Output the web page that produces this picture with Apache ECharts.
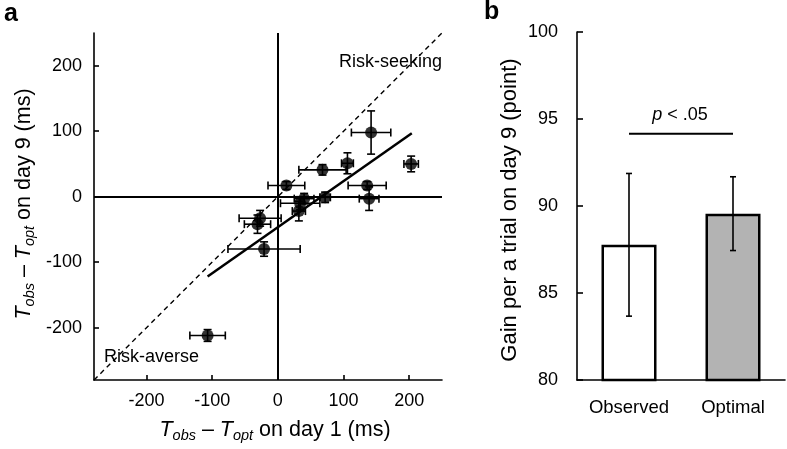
<!DOCTYPE html>
<html><head><meta charset="utf-8">
<script src="https://cdn.jsdelivr.net/npm/echarts@6/dist/echarts.min.js"></script>
<style>html,body{margin:0;padding:0;background:#fff}#c{width:787px;height:449px}</style>
</head><body><div id="c"></div>
<script>
// Panel a data (ms)
const day1 = [142, 203, 68, 106, 13, 136, 139, 72, 40, 34, 32, -27, -31, -21, -107];
const day9 = [98, 50, 41, 51, 17, 17, -3, -1, -3, -10, -22, -33, -42, -80, -212];
const day1Err = [30, 11, 36, 9, 28, 29, 15, 8, 15, 30, 10, 32, 20, 55, 27];
const day9Err = [33, 12, 8, 16, 6, 6, 18, 8, 8, 10, 15, 12, 14, 11, 9];
const regX = [-107, 204];
const regY = [-122, 97];
const diagRange = [-280, 250];
const tickValsA = [-200, -100, 0, 100, 200];
// Panel b data
const categories = ['Observed', 'Optimal'];
const gains = [87.77, 89.56];
const gainErr = [4.1, 2.12];
const sigLevel = 94.15;

const FONT = 'Liberation Sans, Arial, sans-serif';
const chart = echarts.init(document.getElementById('c'));

function errA(params, api) {
  const x = api.value(0), y = api.value(1), ex = api.value(2), ey = api.value(3);
  const l = api.coord([x - ex, y]), r = api.coord([x + ex, y]);
  const t = api.coord([x, y + ey]), b = api.coord([x, y - ey]);
  const cap = 4, st = { stroke: '#000', lineWidth: 1.6 };
  const ln = (x1, y1, x2, y2) => ({ type: 'line', shape: { x1, y1, x2, y2 }, style: st });
  return { type: 'group', children: [
    ln(l[0], l[1], r[0], r[1]),
    ln(l[0], l[1] - cap, l[0], l[1] + cap),
    ln(r[0], r[1] - cap, r[0], r[1] + cap),
    ln(t[0], t[1], b[0], b[1]),
    ln(t[0] - cap, t[1], t[0] + cap, t[1]),
    ln(b[0] - cap, b[1], b[0] + cap, b[1])
  ]};
}
function errB(params, api) {
  const i = api.value(0), v = api.value(1), e = api.value(2);
  const t = api.coord([i, v + e]), b = api.coord([i, v - e]);
  const cap = 3, st = { stroke: '#000', lineWidth: 1.6 };
  const ln = (x1, y1, x2, y2) => ({ type: 'line', shape: { x1, y1, x2, y2 }, style: st });
  return { type: 'group', children: [
    ln(t[0], t[1], b[0], b[1]),
    ln(t[0] - cap, t[1], t[0] + cap, t[1]),
    ln(b[0] - cap, b[1], b[0] + cap, b[1])
  ]};
}

const axisA = (extra) => Object.assign({
  type: 'value', min: diagRange[0], max: diagRange[1],
  axisLine: { onZero: false, lineStyle: { color: '#000', width: 1.6 } },
  axisTick: { inside: true, length: 5, customValues: tickValsA, lineStyle: { color: '#000', width: 1.6 } },
  axisLabel: { customValues: tickValsA, color: '#000', fontSize: 18, fontFamily: FONT, margin: 12 },
  splitLine: { show: false }
}, extra);

const richT = {
  it: { fontStyle: 'italic', fontSize: 21.5, fontFamily: FONT, color: '#000', lineHeight: 27 },
  n: { fontSize: 21.5, fontFamily: FONT, color: '#000', lineHeight: 27 },
  sub: { fontStyle: 'italic', fontSize: 14.5, fontFamily: FONT, color: '#000', lineHeight: 15, verticalAlign: 'bottom' }
};

const option = {
  animation: false,
  backgroundColor: '#fff',
  grid: [
    { left: 94, right: 345, top: 33, bottom: 69 },
    { left: 577, right: 2, top: 32, bottom: 69 }
  ],
  xAxis: [
    axisA({ gridIndex: 0 }),
    { type: 'category', gridIndex: 1, data: categories,
      axisLine: { lineStyle: { color: '#000', width: 1.6 } },
      axisTick: { inside: true, length: 7, lineStyle: { color: '#000', width: 1.6 } },
      axisLabel: { interval: 0, hideOverlap: false, color: '#000', fontSize: 18.5, fontFamily: FONT, margin: 18 } }
  ],
  yAxis: [
    axisA({ gridIndex: 0 }),
    { type: 'value', gridIndex: 1, min: 80, max: 100, interval: 5,
      axisLine: { show: true, lineStyle: { color: '#000', width: 1.6 } },
      axisTick: { show: true, inside: true, length: 6, lineStyle: { color: '#000', width: 1.6 } },
      axisLabel: { color: '#000', fontSize: 18, fontFamily: FONT, margin: 19 },
      splitLine: { show: false } }
  ],
  series: [
    { type: 'line', xAxisIndex: 0, yAxisIndex: 0, data: [[diagRange[0], diagRange[0]], [diagRange[1], diagRange[1]]],
      symbol: 'none', silent: true, lineStyle: { color: '#000', width: 1.4, type: [5, 4] },
      markLine: { silent: true, symbol: 'none', label: { show: false },
        lineStyle: { color: '#000', width: 2, type: 'solid' },
        data: [{ xAxis: 0 }, { yAxis: 0 }] } },
    { type: 'line', xAxisIndex: 0, yAxisIndex: 0, data: regX.map((x, i) => [x, regY[i]]),
      symbol: 'none', silent: true, lineStyle: { color: '#000', width: 2.5 } },
    { type: 'custom', xAxisIndex: 0, yAxisIndex: 0, renderItem: errA, silent: true,
      data: day1.map((x, i) => [x, day9[i], day1Err[i], day9Err[i]]), encode: { x: 0, y: 1 } },
    { type: 'scatter', xAxisIndex: 0, yAxisIndex: 0, symbolSize: 12, silent: true,
      itemStyle: { color: '#000' }, data: day1.map((x, i) => [x, day9[i]]) },
    { type: 'bar', xAxisIndex: 1, yAxisIndex: 1, barWidth: 55, silent: true,
      data: gains.map((v, i) => ({ value: v, itemStyle: { color: i === 0 ? '#ffffff' : '#b3b3b3', borderColor: '#000', borderWidth: 2.5 } })) },
    { type: 'custom', xAxisIndex: 1, yAxisIndex: 1, renderItem: errB, silent: true, z: 5,
      data: gains.map((v, i) => [i, v, gainErr[i]]), encode: { x: 0, y: 1 } },
    { type: 'line', xAxisIndex: 1, yAxisIndex: 1, symbol: 'none', silent: true,
      lineStyle: { color: '#000', width: 2 }, data: categories.map(c => [c, sigLevel]) }
  ],
  graphic: [
    { type: 'text', x: 4, y: 2, style: { text: 'a', font: 'bold 25px ' + FONT, fill: '#000' } },
    { type: 'text', x: 484, y: 0, style: { text: 'b', font: 'bold 25px ' + FONT, fill: '#000' } },
    { type: 'text', x: 442, y: 62, style: { text: 'Risk-seeking', font: '18px ' + FONT, fill: '#000', align: 'right', verticalAlign: 'middle' } },
    { type: 'text', x: 104, y: 357, style: { text: 'Risk-averse', font: '18px ' + FONT, fill: '#000', align: 'left', verticalAlign: 'middle' } },
    { type: 'text', x: 275, y: 430, style: { text: '{it|T}{sub|obs}{n| – }{it|T}{sub|opt}{n| on day 1 (ms)}', rich: richT, align: 'center', verticalAlign: 'middle' } },
    { type: 'text', x: 24, y: 204, rotation: Math.PI / 2, style: { text: '{it|T}{sub|obs}{n| – }{it|T}{sub|opt}{n| on day 9 (ms)}', rich: richT, align: 'center', verticalAlign: 'middle' } },
    { type: 'text', x: 510, y: 210, rotation: Math.PI / 2, style: { text: 'Gain per a trial on day 9 (point)', font: '22px ' + FONT, fill: '#000', align: 'center', verticalAlign: 'middle' } },
    { type: 'text', x: 680, y: 115, style: { text: '{it|p}{n| < .05}', rich: { it: { fontStyle: 'italic', fontSize: 18, fontFamily: FONT, color: '#000' }, n: { fontSize: 18, fontFamily: FONT, color: '#000' } }, align: 'center', verticalAlign: 'middle' } }
  ]
};
chart.setOption(option);
</script></body></html>
